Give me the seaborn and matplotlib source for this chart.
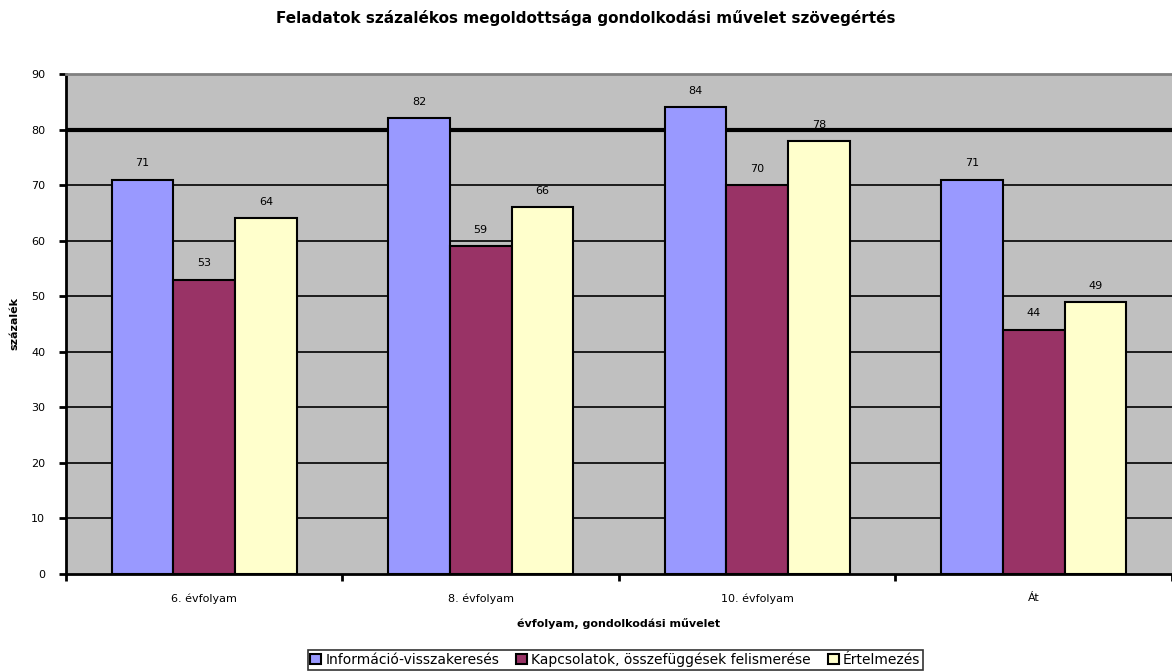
import matplotlib
matplotlib.use("Agg")
import matplotlib.pyplot as plt
import seaborn as sns
import pandas as pd
import numpy as np

# Data
categories = ["6. évfolyam", "8. évfolyam", "10. évfolyam", "Át"]
series_names = ["Információ-visszakeresés",
                "Kapcsolatok, összefüggések felismerése",
                "Értelmezés"]
info_values = [71, 82, 84, 71]
kapcs_values = [53, 59, 70, 44]
ertelm_values = [64, 66, 78, 49]
colors = ["#9999FF", "#993366", "#FFFFCC"]
y_ticks = [0, 10, 20, 30, 40, 50, 60, 70, 80, 90]

df = pd.DataFrame({
    "evfolyam": categories * 3,
    "muvelet": [series_names[0]] * 4 + [series_names[1]] * 4 + [series_names[2]] * 4,
    "ertek": info_values + kapcs_values + ertelm_values,
})

sns.set_theme(style="white")
plt.rcParams["font.family"] = ["DejaVu Sans"]
plt.rcParams["text.color"] = "black"
plt.rcParams["axes.labelcolor"] = "black"
plt.rcParams["xtick.color"] = "black"
plt.rcParams["ytick.color"] = "black"

fig = plt.figure(figsize=(11.72, 6.71), dpi=100)
ax = fig.add_axes([0.0563, 0.1446, 0.9437, 0.7451])
ax.set_facecolor("#C0C0C0")

sns.barplot(data=df, x="evfolyam", y="ertek", hue="muvelet",
            palette=colors, saturation=1, width=0.67, gap=0, edgecolor="black",
            linewidth=1.5, errorbar=None, ax=ax, zorder=3, legend=True)

ax.set_ylim(0, 90)
ax.set_xlim(-0.5, len(categories) - 0.5)
ax.set_yticks(y_ticks)
ax.set_yticklabels([str(v) for v in y_ticks], fontsize=8)

# gridlines
for v in y_ticks[1:-1]:
    ax.axhline(v, color="black", lw=3 if v == 80 else 1.2, zorder=1)

# value labels
for cont in ax.containers:
    ax.bar_label(cont, fmt="%d", padding=8, fontsize=8, zorder=4, color="black")

# spines
for s in ["left", "bottom"]:
    ax.spines[s].set_color("black")
    ax.spines[s].set_linewidth(2)
ax.spines["top"].set_color("#808080")
ax.spines["top"].set_linewidth(2)
ax.spines["right"].set_visible(False)

# ticks
ax.tick_params(axis="y", left=True, direction="out", length=5, width=2,
               color="black", pad=10)
ax.set_xticks(range(len(categories)))
ax.set_xticklabels(categories, fontsize=8)
ax.set_xticks(np.arange(-0.5, len(categories), 1.0), minor=True)
ax.tick_params(axis="x", which="major", bottom=True, length=0, pad=14)
ax.tick_params(axis="x", which="minor", bottom=True, direction="out", length=5,
               width=2, color="black")

ax.set_xlabel("évfolyam, gondolkodási művelet", fontsize=8, fontweight="bold",
              labelpad=10)
ax.set_ylabel("százalék", fontsize=8, fontweight="bold")
ax.yaxis.set_label_coords(-0.042, 0.5)

fig.suptitle("Feladatok százalékos megoldottsága gondolkodási művelet szövegértés",
             fontsize=11, fontweight="bold", x=0.5, y=0.985)

# legend
leg = ax.get_legend()
handles = leg.legend_handles
leg.remove()
fig.legend(handles, series_names, loc="lower center", bbox_to_anchor=(0.525, 0.0),
           ncol=3, fontsize=10, frameon=True, fancybox=False, edgecolor="black",
           handlelength=0.8, handleheight=0.8, handletextpad=0.3, columnspacing=1.2,
           borderpad=0.2, borderaxespad=0.1)
fig.legends[-1].get_frame().set_linewidth(1.2)

fig.savefig("out.png", dpi=100, facecolor="white")
